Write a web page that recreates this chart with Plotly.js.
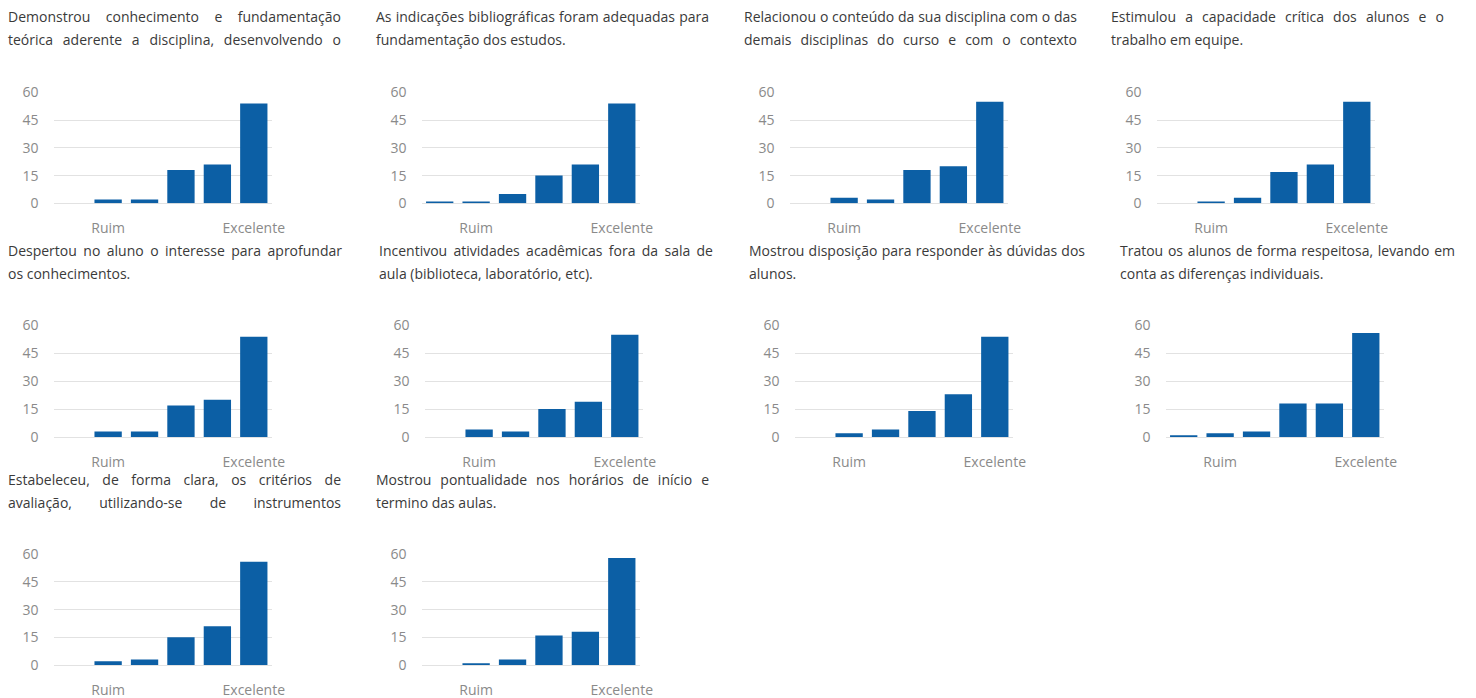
<!DOCTYPE html>
<html>
<head>
<meta charset="utf-8">
<script src="https://cdn.plot.ly/plotly-3.0.1.min.js"></script>
<style>
  html, body { margin: 0; padding: 0; background: #fff; }
  #wrap { position: relative; width: 1476px; height: 698px; overflow: hidden; }
  #chart { position: absolute; left: 0; top: 0; width: 1476px; height: 698px; }
  .ttl { position: absolute; font-family: "Open Sans", sans-serif; font-size: 14px; color: #3a3a3a; white-space: nowrap; line-height: 18px; }
  .ttl.j { text-align: justify; text-align-last: justify; }
</style>
</head>
<body>
<div id="wrap">
  <div id="chart"></div>
</div>
<script>
// ---- data ----
const categories = [0, 1, 2, 3, 4, 5];
const tickPositions = [1, 5];
const tickLabels = ["Ruim", "Excelente"];
const yTicks = [0, 15, 30, 45, 60];

const titleLines = [
  ["Demonstrou conhecimento e fundamentação", "teórica aderente a disciplina, desenvolvendo o"],
  ["As indicações bibliográficas foram adequadas para", "fundamentação dos estudos."],
  ["Relacionou o conteúdo da sua disciplina com o das", "demais disciplinas do curso e com o contexto"],
  ["Estimulou a capacidade crítica dos alunos e o", "trabalho em equipe."],
  ["Despertou no aluno o interesse para aprofundar", "os conhecimentos."],
  ["Incentivou atividades acadêmicas fora da sala de", "aula (biblioteca, laboratório, etc)."],
  ["Mostrou disposição para responder às dúvidas dos", "alunos."],
  ["Tratou os alunos de forma respeitosa, levando em", "conta as diferenças individuais."],
  ["Estabeleceu, de forma clara, os critérios de", "avaliação, utilizando-se de instrumentos"],
  ["Mostrou pontualidade nos horários de início e", "termino das aulas."]
];

const values1 = [0, 2, 2, 18, 21, 54];
const values2 = [1, 1, 5, 15, 21, 54];
const values3 = [0, 3, 2, 18, 20, 55];
const values4 = [0, 1, 3, 17, 21, 55];
const values5 = [0, 3, 3, 17, 20, 54];
const values6 = [0, 4, 3, 15, 19, 55];
const values7 = [0, 2, 4, 14, 23, 54];
const values8 = [1, 2, 3, 18, 18, 56];
const values9 = [0, 2, 3, 15, 21, 56];
const values10 = [0, 1, 3, 16, 18, 58];
const allValues = [values1, values2, values3, values4, values5, values6, values7, values8, values9, values10];

// ---- layout (pixels) ----
const W = 1476, H = 698;
const boxLeft = [8, 376, 744, 1111, 8, 379, 749, 1120, 8, 376];
const boxWidth = [333, 333, 333, 333, 334, 334, 336, 335, 333, 333];
const rowOf = [0, 0, 0, 0, 1, 1, 1, 1, 2, 2];
const titleY = [17, 251, 480];          // centre of first title line
const lineGap = 23;
const plotTop = [92.5, 325.5, 554.3];
const plotBottom = [203.3, 437, 665];
const plotOffset = 45.5, plotW = 218.5;
const justify2 = [true, false, true, false, false, false, false, false, true, false];

const traces = [];
const layout = {
  width: W, height: H,
  margin: {l: 0, r: 0, t: 0, b: 0},
  paper_bgcolor: "#ffffff", plot_bgcolor: "#ffffff",
  showlegend: false,
  font: {family: "Open Sans, sans-serif", size: 14, color: "#8a8a8a"},
  bargap: 0.25
};

allValues.forEach((vals, i) => {
  const n = i + 1;
  const xa = n === 1 ? "x" : "x" + n;
  const ya = n === 1 ? "y" : "y" + n;
  traces.push({
    type: "bar",
    x: categories, y: vals,
    xaxis: xa, yaxis: ya,
    marker: {color: "#0c5fa5", line: {width: 0}},
    hoverinfo: "y"
  });
  const r = rowOf[i];
  const x0 = boxLeft[i] + plotOffset;
  const x1 = x0 + plotW;
  layout["xaxis" + (n === 1 ? "" : n)] = {
    domain: [x0 / W, x1 / W],
    anchor: ya,
    range: [-0.5, 5.5],
    tickmode: "array", tickvals: tickPositions, ticktext: tickLabels,
    showgrid: false, zeroline: false, showline: false, ticks: "",
    ticklabelstandoff: 15,
    tickfont: {family: "Open Sans, sans-serif", size: 14, color: "#8a8a8a"},
    fixedrange: true
  };
  layout["yaxis" + (n === 1 ? "" : n)] = {
    domain: [1 - plotBottom[r] / H, 1 - plotTop[r] / H],
    anchor: xa,
    range: [0, 60],
    tickmode: "array", tickvals: yTicks,
    showgrid: true, gridcolor: "#e2e2e2", gridwidth: 1,
    zeroline: true, zerolinecolor: "#e2e2e2", zerolinewidth: 1,
    showline: false, ticks: "",
    ticklabelstandoff: 14,
    tickfont: {family: "Open Sans, sans-serif", size: 14, color: "#8a8a8a"},
    fixedrange: true
  };
});

Plotly.newPlot("chart", traces, layout, {displayModeBar: false, staticPlot: true});

// ---- titles as real text ----
const wrap = document.getElementById("wrap");
titleLines.forEach((lines, i) => {
  const r = rowOf[i];
  lines.forEach((txt, k) => {
    const d = document.createElement("div");
    const just = k === 0 || justify2[i];
    d.className = "ttl" + (just ? " j" : "");
    d.style.left = boxLeft[i] + "px";
    d.style.width = boxWidth[i] + "px";
    d.style.top = (titleY[r] + k * lineGap - 9) + "px";
    d.textContent = txt;
    wrap.appendChild(d);
  });
});
</script>
</body>
</html>
